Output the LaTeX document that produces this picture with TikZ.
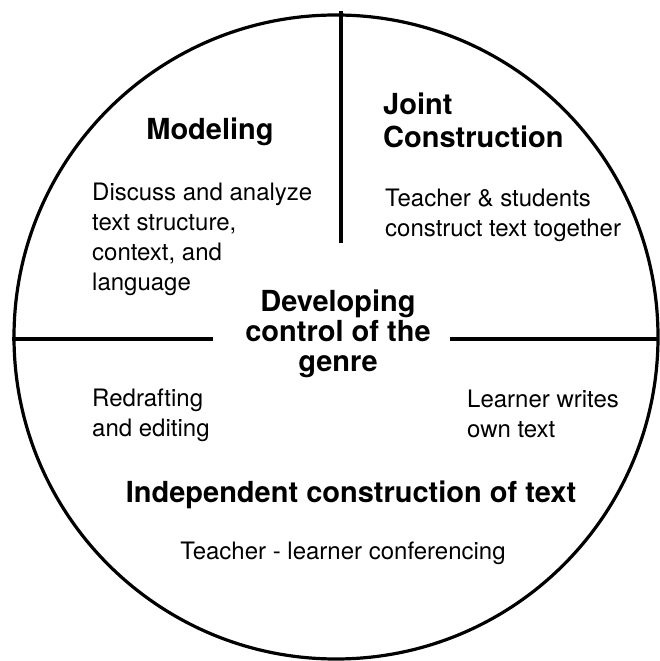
\documentclass[tikz,border=0pt]{standalone}
\usepackage{fontspec}
\setmainfont{TeX Gyre Heros}
\usetikzlibrary{positioning}
\usetikzlibrary{shapes}

\begin{document}
\begin{tikzpicture}[x=1pt, y=1pt,
		rim/.style={draw, circle, line width=3.2pt, minimum size=644pt, inner sep=0pt},
		divider/.style={line width=3.2pt},
		phase/.style={inner sep=0pt, align=left, font={\bfseries\fontsize{29}{33}\selectfont}},
		hub/.style={inner sep=0pt, align=center, font={\bfseries\fontsize{29}{30}\selectfont}},
		note/.style={inner sep=0pt, align=left, font={\fontsize{24}{30}\selectfont}}
	]
	
	\useasboundingbox (0,0) rectangle (659,661);
	
	\node[rim] (wheel) at (336,324) {};
	
	%dividers
	\coordinate (topend) at (341,650);
	\coordinate (midend) at (341,418);
	\coordinate (leftend) at (12,322);
	\coordinate (leftgap) at (213,322);
	\coordinate (rightgap) at (450,322);
	\coordinate (rightend) at (659,322);
	\draw[divider] (topend) -- (midend);
	\draw[divider] (leftend) -- (leftgap);
	\draw[divider] (rightgap) -- (rightend);
	
	%phases (base = last line)
	\node[phase, anchor=base] (model) at (210,521) {Modeling};
	\node[note, anchor=base west] (modelnote) at (92,370) {Discuss and analyze\\text structure,\\context, and\\language};
	\node[phase, anchor=base west] (joint) at (383,513) {Joint\\Construction};
	\node[note, anchor=base west] (jointnote) at (385,424) {Teacher \& students\\construct text together};
	\node[hub, anchor=base] (genre) at (338,289) {Developing\\control of the\\genre};
	\node[note, anchor=base west] (redraft) at (92,224) {Redrafting\\and editing};
	\node[note, anchor=base west] (learner) at (467,223) {Learner writes\\own text};
	\node[phase, anchor=base] (indep) at (351,158) {Independent construction of text};
	\node[note, anchor=base] (confer) at (343,101) {Teacher - learner conferencing};
\end{tikzpicture}
\end{document}
